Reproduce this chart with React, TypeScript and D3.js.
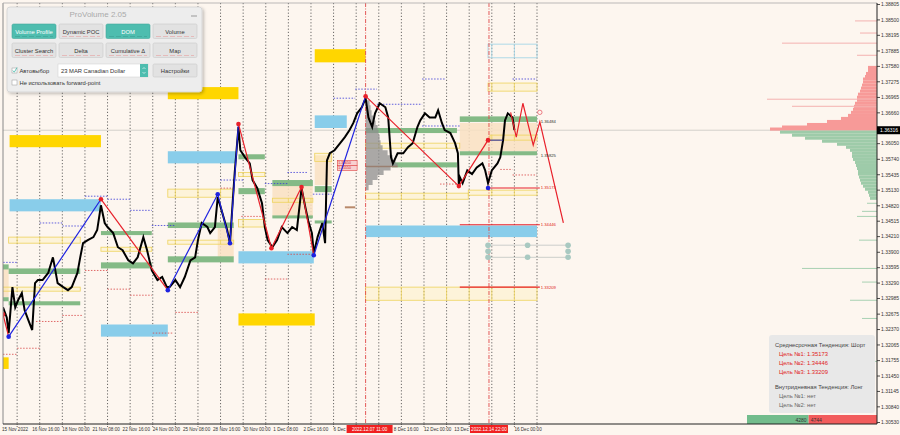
import React from 'react';
import * as d3 from 'd3';

// ---------- DATA ----------
const priceTicks = [1.38805, 1.385, 1.38195, 1.37885, 1.3758, 1.37275, 1.36965, 1.3666, 1.3605, 1.3574, 1.35435, 1.3513, 1.3482, 1.34515, 1.3421, 1.339, 1.33595, 1.3329, 1.32985, 1.32675, 1.3237, 1.32065, 1.31755, 1.3145, 1.31145, 1.3084, 1.3053];
const currentPrice = 1.36316;

const timeTickBars = [0, 31, 63, 95, 127, 159, 191, 223, 255, 287, 319, 351, 415, 447, 479, 543];
const timeTickLabels = ['15 Nov 2022', '16 Nov 16:00', '18 Nov 00:00', '21 Nov 08:00', '22 Nov 16:00', '24 Nov 00:00', '25 Nov 08:00', '28 Nov 16:00', '30 Nov 00:00', '1 Dec 08:00', '2 Dec 16:00', '6 Dec 00:00', '8 Dec 16:00', '12 Dec 00:00', '13 Dec 08:00', '16 Dec 00:00'];
const dayGridBars = [15, 39, 63, 87, 111, 135, 159, 183, 207, 231, 255, 279, 303, 327, 351, 375, 399, 423, 447, 471, 495, 519, 543, 567];
const markerBars = [385, 516];
const markerLabels = ['2022.12.07 11:00', '2022.12.14 22:00'];

const priceBars = [0,4,6,10,13,16,20,23,27,31,34,37,42,48,53,55,58,64,69,73,79,82,85,90,96,100,104,108,111,117,122,127,133,138,143,149,153,158,164,169,174,177,183,188,193,199,204,207,211,217,220,225,228,233,238,241,244,246,250,252,257,262,265,270,275,278,281,286,291,296,302,307,312,317,321,324,328,330,334,339,342,344,347,352,358,363,368,372,376,381,385,388,392,395,400,406,409,412,414,419,425,430,435,440,443,448,453,459,462,466,469,475,480,483,484,485,488,493,498,503,509,512,515,519,525,528,531,533,536,541,543];
const priceValues = [1.3281,1.3261,1.3230,1.3321,1.3281,1.3295,1.3309,1.3275,1.3255,1.3236,1.3329,1.3335,1.3335,1.3349,1.3380,1.3360,1.3329,1.3321,1.3315,1.3321,1.3349,1.3380,1.3408,1.3414,1.3420,1.3434,1.3483,1.3448,1.3440,1.3428,1.3400,1.3394,1.3374,1.3368,1.3380,1.3420,1.3394,1.3354,1.3335,1.3341,1.3321,1.3321,1.3335,1.3321,1.3341,1.3374,1.3380,1.3414,1.3448,1.3440,1.3428,1.3440,1.3499,1.3467,1.3434,1.3408,1.3493,1.3547,1.3638,1.3592,1.3578,1.3566,1.3533,1.3517,1.3487,1.3440,1.3414,1.3400,1.3414,1.3440,1.3428,1.3440,1.3434,1.3517,1.3479,1.3453,1.3428,1.3388,1.3420,1.3448,1.3408,1.3572,1.3586,1.3592,1.3606,1.3618,1.3632,1.3646,1.3665,1.3677,1.3695,1.3657,1.3638,1.3665,1.3685,1.3677,1.3657,1.3578,1.3566,1.3586,1.3586,1.3598,1.3606,1.3638,1.3651,1.3665,1.3657,1.3657,1.3671,1.3646,1.3632,1.3626,1.3606,1.3586,1.3521,1.3539,1.3527,1.3552,1.3545,1.3558,1.3566,1.3552,1.3527,1.3552,1.3566,1.3578,1.3612,1.3651,1.3665,1.3657,1.3632];

const zzBars = [0, 6, 104, 175, 228, 241, 250, 285, 317, 330, 385, 484, 515];
const zzPrices = [1.3267, 1.3223, 1.3495, 1.3315, 1.3505, 1.3408, 1.3644, 1.3398, 1.3519, 1.3384, 1.3699, 1.3521, 1.3612];
const zzPointColors = ['r', 'b', 'r', 'b', 'b', 'b', 'r', 'r', 'r', 'b', 'r', 'r', 'r'];
const zzSegColors = ['r', 'b', 'r', 'b', 'b', 'b', 'r', 'r', 'r', 'b', 'r', 'r'];

const fcBars = [539, 545, 552, 563, 570, 595];
const fcPrices = [1.3667, 1.3618, 1.3685, 1.3602, 1.3648, 1.3448];

const targetLines = [[515, 570, 1.35173], [485, 570, 1.34446], [485, 570, 1.33209]];
const levelLabels = [[1.36484, 'k'], [1.35825, 'k'], [1.35173, 'r'], [1.34446, 'r'], [1.33209, 'r']];

const goldZones = [[7,104,1.3622,1.3598],[175,250,1.3717,1.3693],[331,385,1.3792,1.3766],[250,331,1.3269,1.3245],[-3,6,1.3182,1.3159]];
const blueZones = [[7,104,1.3495,1.3471],[175,247,1.3590,1.3566],[250,330,1.3392,1.3368],[104,175,1.3247,1.3223],[331,365,1.3661,1.3636],[385,567,1.3443,1.3420]];
const greenZones = [[-3,6,1.3366,1.3356],[6,82,1.3358,1.3347],[-3,6,1.3301,1.3293],[6,82,1.3293,1.3285],[104,158,1.3432,1.3424],[104,158,1.3370,1.3358],[175,245,1.3449,1.3438],[175,245,1.3382,1.3370],[250,278,1.3584,1.3574],[250,278,1.3517,1.3505],[286,329,1.3533,1.3521],[286,329,1.3463,1.3457],[331,349,1.3521,1.3509],[331,349,1.3453,1.3447],[385,482,1.3636,1.3626],[413,482,1.3568,1.3558],[485,567,1.3659,1.3648],[485,567,1.3590,1.3582]];
const peachZones = [[485,567,1.3646,1.3590],[228,245,1.3440,1.3380],[286,329,1.3523,1.3459],[-3,6,1.3358,1.3301],[331,349,1.3582,1.3523]];
const yellowBoxes = [[6,82,1.3420,1.3408],[104,158,1.3400,1.3392],[-3,82,1.3321,1.3313],[175,245,1.3515,1.3499],[175,245,1.3414,1.3406],[250,278,1.3548,1.3540],[250,278,1.3455,1.3440],[286,329,1.3497,1.3489],[331,349,1.3586,1.3570],[385,485,1.3606,1.3596],[385,494,1.3507,1.3495],[494,567,1.3513,1.3503],[385,567,1.3321,1.3295],[515,567,1.3725,1.3709],[517,567,1.3622,1.3612]];
const cyanBoxes = [[515,567,1.3802,1.3775]];

const blueDotted = [[87,111,1.3501],[111,135,1.3495],[135,158,1.3473],[39,63,1.3448],[63,87,1.3442],[158,183,1.3443],[-3,15,1.3370],[231,255,1.3533],[351,374,1.3695],[374,397,1.3713],[397,445,1.3683],[445,469,1.3733],[541,567,1.3733],[302,324,1.3548],[278,302,1.3526],[329,349,1.3505],[445,485,1.3640]];
const redDotted = [[87,111,1.3354],[111,135,1.3317],[135,158,1.3305],[35,63,1.3253],[63,85,1.3265],[15,39,1.3200],[0,15,1.3188],[183,207,1.3271],[231,245,1.3517],[253,278,1.3461],[278,302,1.3337],[302,329,1.3386],[159,181,1.3230],[528,541,1.3554],[541,567,1.3543],[464,485,1.3525]];

const circleBars = [515, 557, 600];
const circlePrices = [1.3404, 1.3392, 1.3380];

const greyProfilePrices = [1.3691,1.3681,1.3671,1.3661,1.3651,1.3642,1.3632,1.3622,1.3612,1.3602,1.3592,1.3582,1.3572,1.3566,1.3560,1.3552,1.3543,1.3533,1.3523,1.3513];
const greyProfileVols = [2,4,5,6,8,10,12,13,14,15,17,22,27,30,32,25,18,12,7,3];

const sellProfilePrices = [1.3756,1.3750,1.3744,1.3738,1.3733,1.3727,1.3721,1.3715,1.3709,1.3703,1.3697,1.3691,1.3685,1.3679,1.3673,1.3667,1.3661,1.3655,1.3649,1.3643,1.3638,1.3634];
const sellProfileVols = [9,9,11,12,14,14,15,16,17,19,20,20,22,23,24,26,29,36,50,70,95,107];
const buyProfilePrices = [1.3628,1.3622,1.3616,1.3610,1.3604,1.3598,1.3592,1.3586,1.3580,1.3574,1.3568,1.3562,1.3556,1.3550,1.3545,1.3539,1.3533,1.3527,1.3521,1.3515,1.3509,1.3503,1.3497];
const buyProfileVols = [97,85,72,55,40,31,27,25,25,24,22,21,20,19,19,18,17,16,14,12,9,8,7];
const sellThinPrices = [1.3848, 1.3824, 1.3804, 1.3780, 1.3693, 1.3679];
const sellThinVols = [22, 17, 95, 20, 110, 85];
const buyThinPrices = [1.3487, 1.3471, 1.3461, 1.3414, 1.3358, 1.3331, 1.3295, 1.3259, 1.3174];
const buyThinVols = [10, 15, 20, 18, 75, 15, 27, 15, 8];

const totalVolumes = [4280, 4744];

const infoLines = [
  ['Среднесрочная Тенденция: Шорт', 'h'],
  ['Цель №1: 1.35173', 'r'],
  ['Цель №2: 1.34446', 'r'],
  ['Цель №3: 1.33209', 'r'],
  ['Внутридневная Тенденция: Лонг', 'h'],
  ['Цель №1: нет', 'g'],
  ['Цель №2: нет', 'g'],
];
const panelButtons = [
  ['Volume Profile', true], ['Dynamic POC', false], ['DOM', true], ['Volume', false],
  ['Cluster Search', false], ['Delta', false], ['Cumulative Δ', false], ['Map', false],
];

// ---------- COMPONENT ----------
const FONT = '"Liberation Sans", Arial, sans-serif';
const PL = 3, PT = 3, PR = 877, PB = 424;

export default function App() {
  const xs = d3.scaleLinear().domain([0, 928]).range([PL, PR]);
  const ys = d3.scaleLinear().domain([1.3053, 1.38805]).range([422.5, 4.5]);
  const volX = d3.scaleLinear().domain([0, 120]).range([PR, PR - 120]);
  const gX = d3.scaleLinear().domain([0, 40]).range([xs(385), xs(385) + 40]);
  const totX = d3.scaleLinear().domain([0, totalVolumes[0] + totalVolumes[1]]).range([PR - 130, PR]);

  const zoneRect = (z: number[], key: string, props: any) => (
    <rect key={key} x={xs(z[0])} y={ys(z[2])} width={xs(z[1]) - xs(z[0])} height={Math.max(1, ys(z[3]) - ys(z[2]))} {...props} />
  );

  const priceLine = d3.line<number>().x((_, i) => xs(priceBars[i])).y((d) => ys(d))(priceValues) || '';
  const col = (c: string) => (c === 'r' ? '#E8202A' : '#1E22E0');

  const greyArea = d3.area<number>()
    .y((_, i) => ys(greyProfilePrices[i]))
    .x0(gX(0))
    .x1((d) => gX(d))
    .curve(d3.curveStepAfter)(greyProfileVols) || '';

  const fcLine = d3.line<number>().x((_, i) => xs(fcBars[i])).y((d) => ys(d))(fcPrices) || '';

  const boxW = [46, 38];
  const boxX = markerBars.map((b) => xs(b) - 19);

  return (
    <svg width={900} height={435} style={{ position: 'absolute', left: 0, top: 0, background: '#FDF6EF', fontFamily: FONT }}>
      <defs>
        <clipPath id="plot"><rect x={PL} y={PT} width={PR - PL} height={PB - PT} /></clipPath>
        <clipPath id="axisclip">
          <rect x={0} y={424} width={boxX[0] - 0.5} height={11} />
          <rect x={boxX[0] + boxW[0] + 0.5} y={424} width={boxX[1] - boxX[0] - boxW[0] - 1} height={11} />
          <rect x={boxX[1] + boxW[1] + 0.5} y={424} width={900} height={11} />
        </clipPath>
        <filter id="sh" x="-5%" y="-5%" width="115%" height="120%">
          <feDropShadow dx="1.5" dy="1.5" stdDeviation="1.5" floodColor="#000" floodOpacity="0.25" />
        </filter>
      </defs>
      <rect x={0} y={0} width={900} height={435} fill="#FDF6EF" />

      <g clipPath="url(#plot)">
        {dayGridBars.map((b) => (
          <line key={'g' + b} x1={xs(b)} x2={xs(b)} y1={PT} y2={PB} stroke="#444" strokeWidth={0.8} strokeDasharray="1.2,2" />
        ))}
        <line x1={PL} x2={PR} y1={ys(currentPrice)} y2={ys(currentPrice)} stroke="#C9C6C2" strokeWidth={0.8} />

        {sellProfilePrices.map((p, i) => (
          <rect key={'sp' + i} x={volX(sellProfileVols[i])} y={ys(p) - 1.5} width={PR - volX(sellProfileVols[i])} height={3.1} fill="#F79A98" />
        ))}
        {buyProfilePrices.map((p, i) => (
          <rect key={'bp' + i} x={volX(buyProfileVols[i])} y={ys(p) - 1.5} width={PR - volX(buyProfileVols[i])} height={3.1} fill="#9ECBA9" />
        ))}
        {sellThinPrices.map((p, i) => (
          <rect key={'st' + i} x={volX(sellThinVols[i])} y={ys(p) - 0.5} width={PR - volX(sellThinVols[i])} height={1} fill="#F4B2B0" />
        ))}
        {buyThinPrices.map((p, i) => (
          <rect key={'bt' + i} x={volX(buyThinVols[i])} y={ys(p) - 0.5} width={PR - volX(buyThinVols[i])} height={1} fill="#A9D1B3" />
        ))}

        {peachZones.map((z, i) => zoneRect(z, 'pz' + i, { fill: '#F9E0C2', opacity: 0.85 }))}
        {greenZones.map((z, i) => zoneRect(z, 'gz' + i, { fill: '#84BA86' }))}
        {goldZones.map((z, i) => zoneRect(z, 'oz' + i, { fill: '#FFD600' }))}
        {blueZones.map((z, i) => zoneRect(z, 'bz' + i, { fill: '#89CDEA' }))}
        {yellowBoxes.map((z, i) => (
          <g key={'yb' + i}>
            {zoneRect(z, 'ybr' + i, { fill: 'rgba(255,236,150,0.25)', stroke: '#EED35C', strokeWidth: 0.8 })}
            {dayGridBars.filter((b) => b > z[0] + 1 && b < z[1] - 1).map((b) => (
              <line key={'ybl' + b} x1={xs(b)} x2={xs(b)} y1={ys(z[2])} y2={ys(z[3])} stroke="#EED35C" strokeWidth={0.8} />
            ))}
          </g>
        ))}
        {cyanBoxes.map((z, i) => (
          <g key={'cb' + i}>
            {zoneRect(z, 'cbr' + i, { fill: 'none', stroke: '#A6D6E6', strokeWidth: 0.9 })}
            {dayGridBars.filter((b) => b > z[0] + 1 && b < z[1] - 1).map((b) => (
              <line key={'cbl' + b} x1={xs(b)} x2={xs(b)} y1={ys(z[2])} y2={ys(z[3])} stroke="#A6D6E6" strokeWidth={0.9} />
            ))}
          </g>
        ))}

        {blueDotted.map((d, i) => (
          <line key={'bd' + i} x1={xs(d[0])} x2={xs(d[1])} y1={ys(d[2])} y2={ys(d[2])} stroke="#3A3AD8" strokeWidth={0.8} strokeDasharray="1.5,1.5" />
        ))}
        {redDotted.map((d, i) => (
          <line key={'rd' + i} x1={xs(d[0])} x2={xs(d[1])} y1={ys(d[2])} y2={ys(d[2])} stroke="#D84545" strokeWidth={0.8} strokeDasharray="1.5,1.5" />
        ))}

        <path d={greyArea} fill="#8E8E8E" opacity={0.75} />
        <line x1={xs(385)} x2={xs(419)} y1={ys(1.356)} y2={ys(1.356)} stroke="#9A7F70" strokeWidth={1.5} />
        <line x1={xs(363)} x2={xs(374)} y1={ys(1.3479)} y2={ys(1.3479)} stroke="#B8896A" strokeWidth={2} />
        {[1.3572, 1.3562].map((p, i) => (
          <g key={'lb' + i}>
            <rect x={xs(355)} y={ys(p)} width={xs(376) - xs(355)} height={ys(1.3552) - ys(1.3562)} fill="#F8D0D0" stroke="#E04040" strokeWidth={0.6} />
            <text x={xs(356)} y={ys(p) + 4} fontSize={3.5} fill="#D02020">1.3{i === 0 ? '5650' : '5550'}</text>
          </g>
        ))}

        {markerBars.map((b) => (
          <line key={'mv' + b} x1={xs(b)} x2={xs(b)} y1={PT} y2={PB} stroke="#E04848" strokeWidth={0.9} strokeDasharray="4,1.5,1,1.5" />
        ))}

        {targetLines.map((t, i) => (
          <line key={'tl' + i} x1={xs(t[0])} x2={xs(t[1])} y1={ys(t[2])} y2={ys(t[2])} stroke="#E8202A" strokeWidth={1.1} />
        ))}

        {[circlePrices[0], circlePrices[2]].map((p, i) => (
          <line key={'cl' + i} x1={xs(circleBars[0])} x2={xs(circleBars[2])} y1={ys(p)} y2={ys(p)} stroke="#BFC4C2" strokeWidth={0.8} />
        ))}
        {circleBars.map((b, bi) => circlePrices.filter((_, pi) => !(bi === 1 && pi === 1)).map((p, pi) => (
          <circle key={'c' + bi + '_' + pi} cx={xs(b)} cy={ys(p)} r={2.8} fill="#A9C9C1" />
        )))}

        <path d={priceLine} fill="none" stroke="#000" strokeWidth={2} strokeLinejoin="miter" />

        {zzSegColors.map((c, i) => (
          <line key={'zz' + i} x1={xs(zzBars[i])} y1={ys(zzPrices[i])} x2={xs(zzBars[i + 1])} y2={ys(zzPrices[i + 1])} stroke={col(c)} strokeWidth={1.2} />
        ))}
        <line x1={xs(515)} x2={xs(531)} y1={ys(1.3612)} y2={ys(1.3612)} stroke="#1E22A0" strokeWidth={1} />
        {zzPointColors.map((c, i) => (
          <circle key={'zp' + i} cx={xs(zzBars[i])} cy={ys(zzPrices[i])} r={2.3} fill={col(c)} />
        ))}
        <circle cx={xs(515)} cy={ys(1.35173)} r={2.3} fill="#1E22E0" />

        <path d={fcLine} fill="none" stroke="#E8202A" strokeWidth={1.2} />
        <circle cx={xs(570)} cy={ys(1.3667)} r={2.2} fill="none" stroke="#E8606A" strokeWidth={0.8} />

        {levelLabels.map((l, i) => (
          <text key={'ll' + i} x={xs(571)} y={ys(l[0] as number) + 1.5} fontSize={4.2} fill={l[1] === 'r' ? '#E02020' : '#333'}>{(l[0] as number).toFixed(5)}</text>
        ))}

        <rect x={769} y={335} width={106} height={78} rx={3} fill="#E8E8E8" />
        {infoLines.map((l, i) => {
          const ys2 = [347, 356, 365, 374, 389, 398, 407];
          return (
            <text key={'il' + i} x={l[1] === 'h' ? 775 : 779} y={ys2[i]} fontSize={5.8} fill={l[1] === 'r' ? '#E02222' : l[1] === 'h' ? '#444' : '#666'}>{l[0]}</text>
          );
        })}

        <rect x={totX(0)} y={415} width={totX(totalVolumes[0]) - totX(0)} height={9} fill="#72BC8C" />
        <rect x={totX(totalVolumes[0])} y={415} width={totX(totalVolumes[0] + totalVolumes[1]) - totX(totalVolumes[0])} height={9} fill="#F25C5C" />
        <text x={totX(totalVolumes[0]) - 2} y={421.8} fontSize={5} textAnchor="end" fill="#333">{totalVolumes[0]}</text>
        <text x={totX(totalVolumes[0]) + 2} y={421.8} fontSize={5} fill="#333">{totalVolumes[1]}</text>
      </g>

      <line x1={PL} x2={PL} y1={PT} y2={PB} stroke="#888" strokeWidth={1} />
      <line x1={PL} x2={PR} y1={PT} y2={PT} stroke="#aaa" strokeWidth={0.8} />
      <line x1={PR} x2={PR} y1={PT} y2={PB} stroke="#222" strokeWidth={1} />
      <line x1={PL} x2={PR} y1={PB} y2={PB} stroke="#222" strokeWidth={1} />

      {priceTicks.map((p) => (
        <g key={'pt' + p}>
          <line x1={PR} x2={PR + 3} y1={ys(p)} y2={ys(p)} stroke="#222" strokeWidth={0.8} />
          <text x={PR + 4} y={ys(p) + 1.8} fontSize={5} fill="#333">{p.toFixed(5)}</text>
        </g>
      ))}
      <rect x={PR} y={ys(currentPrice) - 4} width={23} height={8} fill="#000" />
      <text x={PR + 3} y={ys(currentPrice) + 1.8} fontSize={5} fill="#fff">{currentPrice.toFixed(5)}</text>

      {dayGridBars.map((b) => (
        <line key={'bt' + b} x1={xs(b)} x2={xs(b)} y1={PB} y2={PB + 3} stroke="#444" strokeWidth={0.8} strokeDasharray="1,1" />
      ))}
      <g clipPath="url(#axisclip)">
        {timeTickBars.map((b, i) => (
          <text key={'tt' + b} x={xs(b) + (i === 0 ? -1 : 0)} y={431} fontSize={4.6} fill="#333">{timeTickLabels[i]}</text>
        ))}
      </g>
      {markerBars.map((b, i) => (
        <g key={'ml' + b}>
          <rect x={boxX[i]} y={425} width={boxW[i]} height={8} fill="#F02020" />
          <text x={boxX[i] + boxW[i] / 2} y={431} fontSize={4.6} fill="#fff" textAnchor="middle">{markerLabels[i]}</text>
        </g>
      ))}

      <g filter="url(#sh)">
        <rect x={7} y={7} width={195} height={85} rx={3} fill="#EDEDED" stroke="#D2D2D2" strokeWidth={0.8} />
      </g>
      <text x={98} y={17} fontSize={8} fill="#AAAAAA" textAnchor="middle">ProVolume 2.05</text>
      <line x1={191} x2={197} y1={16} y2={16} stroke="#999" strokeWidth={1} />
      {panelButtons.map((b, i) => {
        const cxs = [12, 59, 106, 153];
        const bx = cxs[i % 4];
        const by = i < 4 ? 24 : 43;
        const on = b[1] as boolean;
        return (
          <g key={'pb' + i}>
            <rect x={bx} y={by} width={44} height={14.5} rx={1.5} fill={on ? '#4EBDAF' : '#E2E2E2'} stroke={on ? '#45A99C' : '#CACACA'} strokeWidth={0.6} />
            <text x={bx + 22} y={by + 9.5} fontSize={5.8} fill={on ? '#fff' : '#333'} textAnchor="middle">{b[0] as string}</text>
            <line x1={bx + 3} x2={bx + 41} y1={by + 12.5} y2={by + 12.5} stroke={on ? '#3F9E92' : '#E8A0A0'} strokeWidth={0.6} strokeDasharray="5,2" />
          </g>
        );
      })}
      <rect x={12} y={68} width={5} height={5} fill="#fff" stroke="#999" strokeWidth={0.5} />
      <path d="M12.8 70.5 L14.3 72.2 L17 67.5" fill="none" stroke="#4EBDAF" strokeWidth={0.9} />
      <text x={19.5} y={72.8} fontSize={5.8} fill="#333">Автовыбор</text>
      <rect x={58} y={64} width={90} height={13} fill="#fff" stroke="#CFCFCF" strokeWidth={0.5} />
      <text x={61} y={72.8} fontSize={5.8} fill="#333">23 MAR Canadian Dollar</text>
      <rect x={140} y={64} width={8} height={13} fill="#4EBDAF" />
      <path d="M142.5 69 L144 67.5 L145.5 69 M142.5 72 L144 73.5 L145.5 72" fill="none" stroke="#fff" strokeWidth={0.6} />
      <rect x={153} y={64} width={44} height={13} rx={1.5} fill="#E2E2E2" stroke="#CACACA" strokeWidth={0.6} />
      <text x={175} y={72.8} fontSize={5.8} fill="#333" textAnchor="middle">Настройки</text>
      <rect x={12} y={80} width={5} height={5} fill="#fff" stroke="#999" strokeWidth={0.5} />
      <text x={19.5} y={84.8} fontSize={5.8} fill="#333">Не использовать forward-point</text>
    </svg>
  );
}
